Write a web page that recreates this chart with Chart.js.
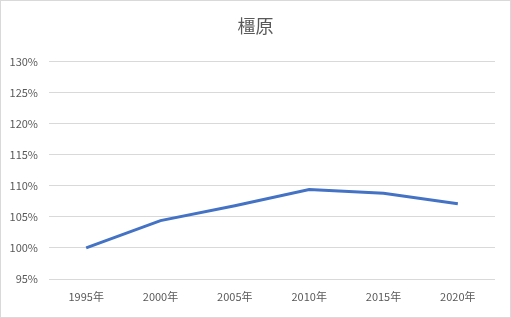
<!DOCTYPE html>
<html>
<head>
<meta charset="utf-8">
<script src="https://cdn.jsdelivr.net/npm/chart.js@4/dist/chart.umd.min.js"></script>
<style>
  html, body { margin: 0; padding: 0; background: #fff; }
  #wrap { position: absolute; left: 0; top: 0; width: 509px; height: 316px; border: 1px solid #d9d9d9; }
</style>
</head>
<body>
<div id="wrap"><canvas id="myChart" width="509" height="316"></canvas></div>
<script>
// data
const years = ['1995年', '2000年', '2005年', '2010年', '2015年', '2020年'];
const ratio = [100, 104.4, 106.8, 109.4, 108.8, 107.1];
const yMin = 95;
const yMax = 130;
const yStep = 5;

const fontFamily = "'Noto Sans CJK JP', 'Noto Sans', sans-serif";
const textColor = '#595959';

const chartContainer = document.getElementById('myChart');

const chartConfiguration = {
  type: 'line',
  data: {
    labels: years,
    datasets: [
      {
        label: '橿原',
        data: ratio,
        borderColor: '#4472C4',
        borderWidth: 3,
        pointRadius: 0,
        tension: 0,
        fill: false,
      },
    ],
  },
  options: {
    responsive: false,
    animation: false,
    layout: { padding: 0 },
    plugins: {
      legend: { display: false },
      tooltip: { enabled: false },
      title: {
        display: true,
        text: '橿原',
        color: textColor,
        font: { family: fontFamily, size: 18, weight: 'normal' },
        padding: { top: 14, bottom: 25 },
      },
    },
    scales: {
      x: {
        offset: true,
        grid: { display: false, drawTicks: false },
        border: { display: false },
        ticks: { color: textColor, font: { family: fontFamily, size: 11 }, padding: 11, maxRotation: 0 },
        afterFit(scale) { scale.height = 38; },
      },
      y: {
        min: yMin,
        max: yMax,
        grid: { color: '#d9d9d9', lineWidth: 1, drawTicks: false },
        border: { display: false },
        ticks: {
          stepSize: yStep,
          color: textColor,
          font: { family: fontFamily, size: 11 },
          padding: 11,
          callback: (v) => v + '%',
        },
        afterFit(scale) { scale.width = 48; },
      },
      // empty right-hand spacer so the title stays centred on the canvas
      spacer: {
        position: 'right',
        min: yMin,
        max: yMax,
        grid: { display: false },
        border: { display: false },
        ticks: { display: false },
        afterFit(scale) { scale.width = 15; },
      },
    },
  },
};

const myChart = new Chart(chartContainer, chartConfiguration);
</script>
</body>
</html>
